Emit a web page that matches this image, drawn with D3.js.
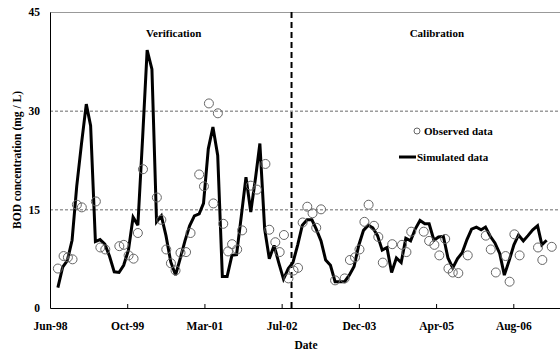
<!DOCTYPE html>
<html>
<head>
<meta charset="utf-8">
<script src="https://cdn.jsdelivr.net/npm/d3@7"></script>
<style>
  html, body { margin: 0; padding: 0; background: #fff; }
  svg text { font-family: "Liberation Serif", "Times New Roman", serif; font-weight: bold; fill: #000; }
</style>
</head>
<body>
<svg id="chart" width="560" height="351"></svg>
<script>
// Monthly simulated BOD (mg/L), first month Aug 1998
const simStart = "1998-08-01";
const simulated = [
  3.1, 6.2, 7.2, 10.3, 18.5, 25.0, 31.0, 27.7, 10.1, 10.4,
  9.7, 7.9, 5.5, 5.4, 6.5, 8.8, 13.8, 12.6, 26.0, 39.2,
  36.3, 13.1, 14.0, 11.0, 7.0, 5.0, 7.5, 10.2, 12.5, 14.0,
  14.3, 15.9, 24.2, 27.5, 23.2, 4.8, 4.8, 8.0, 8.1, 14.0,
  19.9, 14.6, 19.8, 25.0, 12.0, 7.5, 9.5, 6.9, 4.4, 6.0,
  6.9, 9.6, 12.6, 13.4, 13.4, 12.0, 10.2, 7.3, 6.5, 4.0,
  4.0, 4.0, 5.0, 6.3, 9.5, 11.8, 12.6, 12.2, 11.0, 8.8,
  9.2, 5.4, 7.6, 6.9, 10.6, 10.2, 12.0, 13.3, 12.8, 12.8,
  10.3, 10.8, 10.9, 7.6, 6.1, 7.5, 8.4, 10.4, 12.0, 12.3,
  11.9, 12.3, 10.9, 9.9, 8.3, 5.0, 7.2, 9.6, 11.1, 10.2,
  11.0, 11.9, 12.5, 9.6, 10.3
];

// Observed BOD samples
const observedDates = [
  "1998-08-01", "1998-09-07", "1998-10-05", "1998-11-04", "1998-12-02",
  "1999-01-03", "1999-04-04", "1999-05-03", "1999-06-04", "1999-09-03",
  "1999-10-02", "1999-11-02", "1999-12-04", "2000-01-01", "2000-02-03",
  "2000-05-03", "2000-06-01", "2000-07-03", "2000-08-02", "2000-09-01",
  "2000-10-03", "2000-11-08", "2000-12-07", "2001-02-01", "2001-03-04",
  "2001-04-05", "2001-05-04", "2001-06-02", "2001-07-07", "2001-08-07",
  "2001-09-02", "2001-10-05", "2001-11-06", "2002-01-01", "2002-02-10",
  "2002-04-06", "2002-05-01", "2002-06-09", "2002-07-07", "2002-08-04",
  "2002-09-02", "2002-10-05", "2002-11-03", "2002-12-03", "2003-01-02",
  "2003-02-05", "2003-03-01", "2003-04-01", "2003-07-01", "2003-09-01",
  "2003-10-05", "2003-11-07", "2003-12-06", "2004-01-07", "2004-02-03",
  "2004-03-09", "2004-04-06", "2004-05-05", "2004-07-05", "2004-09-06",
  "2004-10-05", "2004-11-05", "2005-01-25", "2005-03-01", "2005-04-04",
  "2005-05-06", "2005-06-13", "2005-07-04", "2005-08-01", "2005-09-06",
  "2005-11-06", "2006-03-03", "2006-04-04", "2006-05-07", "2006-07-09",
  "2006-08-04", "2006-09-04", "2006-10-08", "2007-02-04", "2007-03-04",
  "2007-05-04"
];
const observed = [
  6.0, 7.9, 7.7, 7.4, 15.7,
  15.3, 16.2, 9.2, 8.9, 9.4,
  9.6, 8.0, 7.5, 11.4, 21.1,
  16.8, 13.4, 8.9, 6.8, 5.7,
  8.4, 8.5, 11.4, 20.3, 18.5,
  31.1, 15.9, 29.6, 12.8, 8.6,
  9.7, 8.9, 11.8, 18.6, 18.0,
  21.9, 11.9, 10.0, 8.5, 11.1,
  4.5, 5.7, 6.1, 13.0, 15.4,
  14.4, 12.2, 15.0, 4.2, 4.5,
  7.3, 7.7, 8.9, 13.1, 15.7,
  12.5, 10.8, 6.9, 9.7, 9.6,
  8.5, 11.6, 11.6, 10.2, 9.6,
  8.0, 10.5, 6.0, 5.4, 5.3,
  8.0, 11.0, 8.9, 5.4, 7.9,
  4.0, 11.2, 8.0, 9.2, 7.3,
  9.3
];

const yTicks = [0, 15, 30, 45];
const axisStart = "1998-06-11";
const axisEnd = "2007-08-01";
const tickStepDays = 500;
const tickCount = 7;
const splitDate = "2002-09-22";
const periodLabels = [
  { text: "Verification", date: "2000-08-20" },
  { text: "Calibration", date: "2005-04-20" }
];
const legendItems = ["Observed data", "Simulated data"];

const parse = d3.utcParse("%Y-%m-%d");
const fmt = d3.utcFormat("%b-%y");

const svg = d3.select("#chart");
const plotLeft = 50, plotTop = 12, plotBottom = 308, plotRight = 560;
const pxPerDay = 463.3 / 3000;

const d0 = parse(axisStart), d1 = parse(axisEnd);
const spanDays = (d1 - d0) / 864e5;
const x = d3.scaleUtc().domain([d0, d1]).range([plotLeft, plotLeft + spanDays * pxPerDay]);
const y = d3.scaleLinear().domain([0, 45]).range([plotBottom, plotTop]);

// grid lines
svg.append("g").selectAll("line").data([15, 30]).join("line")
  .attr("x1", plotLeft).attr("x2", plotRight)
  .attr("y1", d => y(d) + 0.5).attr("y2", d => y(d) + 0.5)
  .attr("stroke", "#444").attr("stroke-width", 0.8)
  .attr("stroke-dasharray", "3,2");

// top frame
svg.append("line").attr("x1", plotLeft).attr("x2", plotRight)
  .attr("y1", y(45) + 0.5).attr("y2", y(45) + 0.5)
  .attr("stroke", "#999").attr("stroke-width", 1);

// x axis
const tickDates = d3.range(tickCount).map(i => d3.utcDay.offset(d0, i * tickStepDays));
const xAxis = d3.axisBottom(x).tickValues(tickDates).tickFormat(fmt).tickSizeInner(-4).tickSizeOuter(0).tickPadding(14);
const gx = svg.append("g").attr("transform", `translate(0,${plotBottom})`).call(xAxis);
gx.select(".domain").attr("stroke", "#000").attr("stroke-width", 1);
gx.selectAll(".tick line").attr("stroke", "#000");
gx.selectAll("text").attr("font-size", 11.5).attr("font-family", "Liberation Serif").attr("font-weight", "bold");

// y axis
const yAxis = d3.axisLeft(y).tickValues(yTicks).tickSize(0).tickPadding(10);
const gy = svg.append("g").attr("transform", `translate(${plotLeft},0)`).call(yAxis);
gy.select(".domain").attr("stroke", "#000").attr("stroke-width", 1);
gy.selectAll("text").attr("font-size", 11.5).attr("font-family", "Liberation Serif").attr("font-weight", "bold");

// verification / calibration split
svg.append("line")
  .attr("x1", x(parse(splitDate))).attr("x2", x(parse(splitDate)))
  .attr("y1", plotTop).attr("y2", plotBottom)
  .attr("stroke", "#000").attr("stroke-width", 2)
  .attr("stroke-dasharray", "6,4");

// simulated line
const simDates = simulated.map((v, i) => d3.utcMonth.offset(parse(simStart), i));
const line = d3.line().x((d, i) => x(simDates[i])).y(d => y(d));
svg.append("path").datum(simulated)
  .attr("d", line).attr("fill", "none")
  .attr("stroke", "#000").attr("stroke-width", 3)
  .attr("stroke-linejoin", "miter").attr("stroke-miterlimit", 3);

// observed points
svg.append("g").selectAll("circle").data(observed).join("circle")
  .attr("cx", (d, i) => x(parse(observedDates[i])))
  .attr("cy", d => y(d))
  .attr("r", 4.5)
  .attr("fill", "none").attr("stroke", "#666").attr("stroke-width", 1);

// period labels
svg.append("g").selectAll("text").data(periodLabels).join("text")
  .attr("x", d => x(parse(d.date))).attr("y", 37)
  .attr("text-anchor", "middle").attr("font-size", 11)
  .text(d => d.text);

// legend
const lg = svg.append("g");
lg.append("circle").attr("cx", 417).attr("cy", 131).attr("r", 3)
  .attr("fill", "none").attr("stroke", "#666").attr("stroke-width", 1);
lg.append("text").attr("x", 424).attr("y", 135).attr("font-size", 11).text(legendItems[0]);
lg.append("line").attr("x1", 399).attr("x2", 416).attr("y1", 157).attr("y2", 157)
  .attr("stroke", "#000").attr("stroke-width", 3);
lg.append("text").attr("x", 417).attr("y", 161).attr("font-size", 11).text(legendItems[1]);

// axis titles
svg.append("text").attr("x", 306).attr("y", 349).attr("text-anchor", "middle")
  .attr("font-size", 11.5).text("Date");
svg.append("text").attr("transform", "translate(21,160) rotate(-90)")
  .attr("text-anchor", "middle").attr("font-size", 11.5)
  .text("BOD concentration (mg / L)");
</script>
</body>
</html>
